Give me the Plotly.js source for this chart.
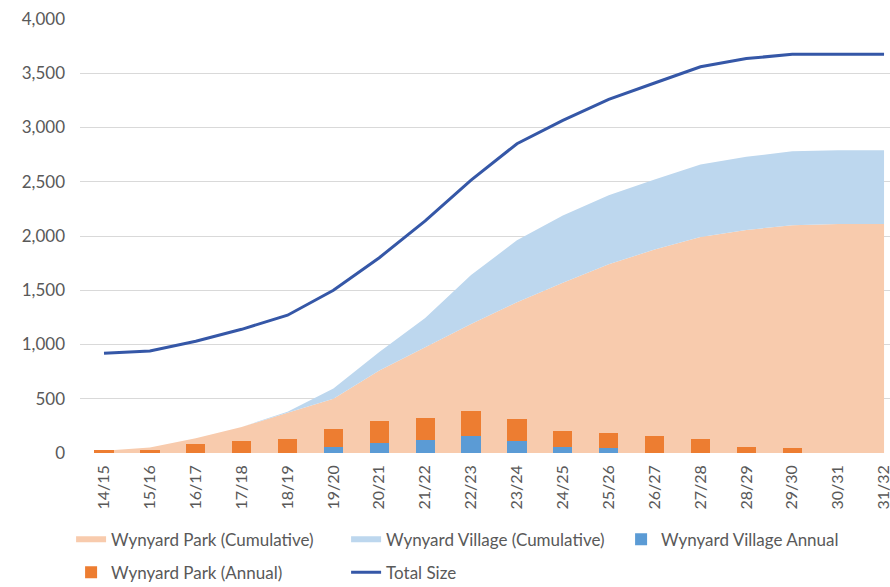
<!DOCTYPE html>
<html>
<head>
<meta charset="utf-8">
<script src="https://cdn.plot.ly/plotly-3.0.1.min.js"></script>
<style>html,body{margin:0;padding:0;background:#fff;}#chart{width:890px;height:587px;}</style>
</head>
<body>
<div id="chart"></div>
<script>
// Financial years
const categories = ["14/15","15/16","16/17","17/18","18/19","19/20","20/21","21/22","22/23","23/24","24/25","25/26","26/27","27/28","28/29","29/30","30/31","31/32"];
// Cumulative series (stacked areas)
const parkCumulative    = [20, 50, 135, 240, 370, 500, 760, 975, 1190, 1390, 1570, 1740, 1875, 1990, 2055, 2100, 2110, 2110];
const villageCumulative = [0, 0, 0, 0, 10, 95, 170, 270, 450, 570, 620, 635, 645, 670, 675, 680, 680, 680];
// Annual series (stacked bars)
const villageAnnual = [0, 0, 0, 0, 0, 52, 89, 120, 154, 115, 52, 43, 0, 0, 0, 0, 0, 0];
const parkAnnual    = [25, 25, 83, 107, 129, 170, 210, 200, 231, 201, 155, 142, 154, 129, 58, 43, 0, 0];
// Total size line
const totalSize = [920, 940, 1030, 1140, 1270, 1500, 1800, 2140, 2515, 2850, 3065, 3260, 3410, 3560, 3635, 3675, 3675, 3675];
const yTicks = [0, 500, 1000, 1500, 2000, 2500, 3000, 3500, 4000];

const FONT = "Lato, 'Open Sans', sans-serif";
const TXT = "#595959";

const traces = [
  {type:"scatter", mode:"none", x:categories, y:parkCumulative, stackgroup:"cum",
   fillcolor:"#F8CBAD", name:"Wynyard Park (Cumulative)", legend:"legend", xaxis:"x", yaxis:"y", hoverinfo:"skip"},
  {type:"scatter", mode:"none", x:categories, y:villageCumulative, stackgroup:"cum",
   fillcolor:"#BDD7EE", name:"Wynyard Village (Cumulative)", legend:"legend", xaxis:"x", yaxis:"y", hoverinfo:"skip"},
  {type:"bar", x:categories, y:villageAnnual, marker:{color:"#5B9BD5"}, width:0.42,
   name:"Wynyard Village Annual", legend:"legend", xaxis:"x2", yaxis:"y2"},
  {type:"bar", x:categories, y:parkAnnual, marker:{color:"#ED7D31"}, width:0.42,
   name:"Wynyard Park (Annual)", legend:"legend2", xaxis:"x2", yaxis:"y2"},
  {type:"scatter", mode:"lines", x:categories, y:totalSize, line:{color:"#3557A7", width:3},
   name:"Total Size", legend:"legend2", xaxis:"x2", yaxis:"y2"}
];

const xr = [-0.523, 17.13];
const layout = {
  width:890, height:587,
  margin:{l:80, r:0, t:19, b:134, autoexpand:false},
  paper_bgcolor:"#ffffff", plot_bgcolor:"rgba(0,0,0,0)",
  font:{family:FONT, size:17, color:TXT},
  barmode:"stack",
  showlegend:true,
  xaxis:{type:"category", categoryorder:"array", categoryarray:categories, range:xr, automargin:false,
         showgrid:false, zeroline:false, showline:false, ticks:"", tickangle:-90,
         tickfont:{family:FONT, size:16, color:TXT}, ticklabelstandoff:8},
  yaxis:{range:[0,4000], tickvals:yTicks, tickformat:",d", showgrid:true, gridcolor:"#D9D9D9", gridwidth:1, automargin:false,
         zeroline:false, showline:false, ticks:"", tickfont:{family:FONT, size:17, color:TXT}, ticklabelstandoff:14},
  xaxis2:{type:"category", categoryorder:"array", categoryarray:categories, range:xr, overlaying:"x",
          visible:false, showgrid:false},
  yaxis2:{range:[0,4000], overlaying:"y", visible:false, showgrid:false, zeroline:false},
  legend:{orientation:"h", x:-0.011, xanchor:"left", y:-0.2, yanchor:"middle",
          entrywidthmode:"pixels", entrywidth:230, traceorder:"normal",
          font:{family:FONT, size:17, color:TXT}, bgcolor:"rgba(0,0,0,0)"},
  legend2:{orientation:"h", x:-0.011, xanchor:"left", y:-0.276, yanchor:"middle",
          entrywidthmode:"pixels", entrywidth:230, traceorder:"normal",
          font:{family:FONT, size:17, color:TXT}, bgcolor:"rgba(0,0,0,0)"}
};

Plotly.newPlot("chart", traces, layout, {displayModeBar:false, staticPlot:true});
</script>
</body>
</html>
